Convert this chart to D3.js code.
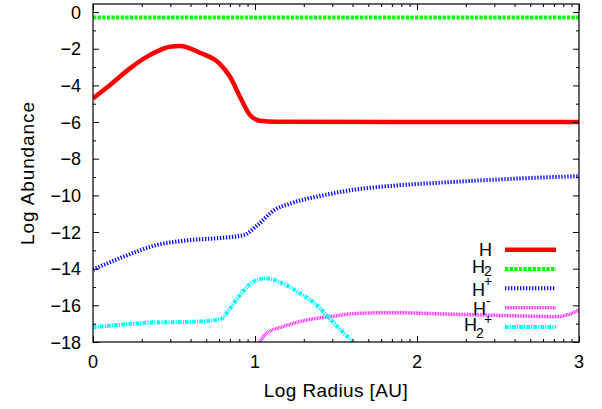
<!DOCTYPE html>
<html>
<head>
<meta charset="utf-8">
<script src="https://cdn.jsdelivr.net/npm/d3@7"></script>
<style>
  html, body { margin: 0; padding: 0; background: #fff; }
  svg { display: block; }
  text { font-family: "Liberation Sans", Arial, Helvetica, sans-serif; fill: #000; }
</style>
</head>
<body>
<svg id="chart" width="602" height="409"></svg>
<script>
// ---- data ----
const xTicks = [0, 1, 2, 3];
const yTicks = [0, -2, -4, -6, -8, -10, -12, -14, -16, -18];

const hX   = [0, 0.105, 0.228, 0.35, 0.475, 0.537, 0.66, 0.78, 0.846, 0.907, 0.969, 1.03, 1.13, 2.0, 3.0];
const hY   = [-4.71, -3.98, -3.07, -2.35, -1.89, -1.85, -2.22, -2.80, -3.53, -4.62, -5.62, -5.93, -5.99, -6.0, -6.0];

const h2X  = [0, 1.5, 3];
const h2Y  = [-0.3, -0.3, -0.3];

const hpX  = [0, 0.187, 0.393, 0.599, 0.805, 0.93, 1.016, 1.12, 1.22, 1.43, 1.63, 1.83, 2.24, 2.65, 3.0];
const hpY  = [-14.05, -13.35, -12.71, -12.44, -12.31, -12.17, -11.62, -10.80, -10.44, -9.98, -9.67, -9.49, -9.26, -9.07, -8.95];

const hmX  = [1.03, 1.07, 1.17, 1.32, 1.46, 1.63, 1.83, 2.24, 2.65, 2.86, 2.94, 3.0];
const hmY  = [-18, -17.53, -17.17, -16.8, -16.62, -16.44, -16.4, -16.49, -16.58, -16.62, -16.49, -16.26];

const h2pX = [0, 0.187, 0.393, 0.599, 0.784, 0.846, 0.907, 0.99, 1.07, 1.17, 1.28, 1.38, 1.48, 1.54, 1.60];
const h2pY = [-17.2, -17.04, -16.93, -16.9, -16.77, -16.17, -15.44, -14.71, -14.53, -14.8, -15.35, -15.98, -16.9, -17.44, -17.95];

const seriesNames = ["H", "H2", "H+", "H-", "H2+"];

// ---- layout ----
const svg = d3.select("#chart");
const L = 93, R = 579, T = 4, B = 342;
const x = d3.scaleLinear().domain([0, 3]).range([L, R]);
const y = d3.scaleLinear().domain([-18, 0.44]).range([B, T]);

const styles = {
  "H":   { color: "#ff0000", width: 4.5, dash: null },
  "H2":  { color: "#00ff00", width: 4,   dash: "3.3,1.3" },
  "H+":  { color: "#0000ff", width: 4,   dash: "1.3,1.7" },
  "H-":  { color: "#ff00ff", width: 3.5, dash: "0.8,0.8" },
  "H2+": { color: "#00ffff", width: 4,   dash: "3.5,1.2,1.2,1.2" }
};
const series = [
  { name: "H",   xs: hX,   ys: hY },
  { name: "H2",  xs: h2X,  ys: h2Y },
  { name: "H+",  xs: hpX,  ys: hpY },
  { name: "H-",  xs: hmX,  ys: hmY },
  { name: "H2+", xs: h2pX, ys: h2pY }
];

svg.append("defs").append("clipPath").attr("id", "clip")
  .append("rect").attr("x", L).attr("y", T).attr("width", R - L).attr("height", B - T);

const line = d3.line().x(d => x(d[0])).y(d => y(d[1])).curve(d3.curveMonotoneX);
const gLines = svg.append("g").attr("clip-path", "url(#clip)");
series.forEach(s => {
  const st = styles[s.name];
  gLines.append("path")
    .datum(s.xs.map((v, i) => [v, s.ys[i]]))
    .attr("d", line)
    .attr("fill", "none")
    .attr("stroke", st.color)
    .attr("stroke-width", st.width)
    .attr("stroke-dasharray", st.dash);
});

// ---- axes (gnuplot-style inward ticks on all sides) ----
const minorX = [];
for (let d = 0; d < 3; d++) for (let k = 2; k <= 9; k++) minorX.push(d + Math.log10(k));
const minorY = d3.range(-17, 1, 2);

function tickAxis(axisGen, transform) {
  const g = svg.append("g").attr("transform", transform).call(axisGen);
  g.select(".domain").remove();
  g.selectAll("line").attr("stroke", "#000").attr("stroke-width", 1);
  return g;
}
tickAxis(d3.axisTop(x).tickValues(xTicks).tickSize(6).tickFormat(""), `translate(0,${B})`);
tickAxis(d3.axisBottom(x).tickValues(xTicks).tickSize(6).tickFormat(""), `translate(0,${T})`);
tickAxis(d3.axisTop(x).tickValues(minorX).tickSize(3).tickFormat(""), `translate(0,${B})`);
tickAxis(d3.axisBottom(x).tickValues(minorX).tickSize(3).tickFormat(""), `translate(0,${T})`);
tickAxis(d3.axisRight(y).tickValues(yTicks).tickSize(6).tickFormat(""), `translate(${L},0)`);
tickAxis(d3.axisLeft(y).tickValues(yTicks).tickSize(6).tickFormat(""), `translate(${R},0)`);
tickAxis(d3.axisRight(y).tickValues(minorY).tickSize(3).tickFormat(""), `translate(${L},0)`);
tickAxis(d3.axisLeft(y).tickValues(minorY).tickSize(3).tickFormat(""), `translate(${R},0)`);

// tick labels
svg.append("g").selectAll("text").data(xTicks).join("text")
  .attr("x", d => x(d)).attr("y", 368)
  .attr("text-anchor", "middle").attr("font-size", 18)
  .text(d => d3.format("d")(d));
svg.append("g").selectAll("text").data(yTicks).join("text")
  .attr("x", 81).attr("y", d => y(d) + 6.5)
  .attr("text-anchor", "end").attr("font-size", 18)
  .text(d => d3.format("d")(d));

// frame
svg.append("rect").attr("x", L).attr("y", T).attr("width", R - L).attr("height", B - T)
  .attr("fill", "none").attr("stroke", "#000").attr("stroke-width", 1.2);

// axis titles
svg.append("text").attr("x", (L + R) / 2).attr("y", 397)
  .attr("text-anchor", "middle").attr("font-size", 19).attr("letter-spacing", 0.4)
  .text("Log Radius [AU]");
svg.append("text").attr("transform", `translate(33.5,${(T + B) / 2}) rotate(-90)`)
  .attr("text-anchor", "middle").attr("font-size", 19).attr("letter-spacing", 0.9)
  .text("Log Abundance");

// legend
const legY = [249.7, 269, 288.3, 307.7, 327];
const legLabels = [
  { hEnd: 492, hBase: 256,   sub: null, subX: 0,   subBase: 0,   sup: null, supX: 0,   supBase: 0 },
  { hEnd: 485, hBase: 272.7, sub: "2",  subX: 484, subBase: 276, sup: null, supX: 0,   supBase: 0 },
  { hEnd: 485, hBase: 295.7, sub: null, subX: 0,   subBase: 0,   sup: "+",  supX: 484, supBase: 286 },
  { hEnd: 486, hBase: 315,   sub: null, subX: 0,   subBase: 0,   sup: "-",  supX: 486, supBase: 306 },
  { hEnd: 477, hBase: 331,   sub: "2",  subX: 476, subBase: 338, sup: "+",  supX: 484, supBase: 324 }
];
seriesNames.forEach((n, i) => {
  const st = styles[n];
  const yy = legY[i];
  svg.append("line").attr("x1", 505).attr("x2", 556).attr("y1", yy).attr("y2", yy)
    .attr("stroke", st.color).attr("stroke-width", st.width).attr("stroke-dasharray", st.dash);
  const lab = legLabels[i];
  svg.append("text").attr("x", lab.hEnd).attr("y", lab.hBase)
    .attr("text-anchor", "end").attr("font-size", 18).text("H");
  if (lab.sub) svg.append("text").attr("x", lab.subX).attr("y", lab.subBase)
    .attr("font-size", 14).text(lab.sub);
  if (lab.sup) svg.append("text").attr("x", lab.supX).attr("y", lab.supBase)
    .attr("font-size", 14).text(lab.sup);
});
</script>
</body>
</html>
